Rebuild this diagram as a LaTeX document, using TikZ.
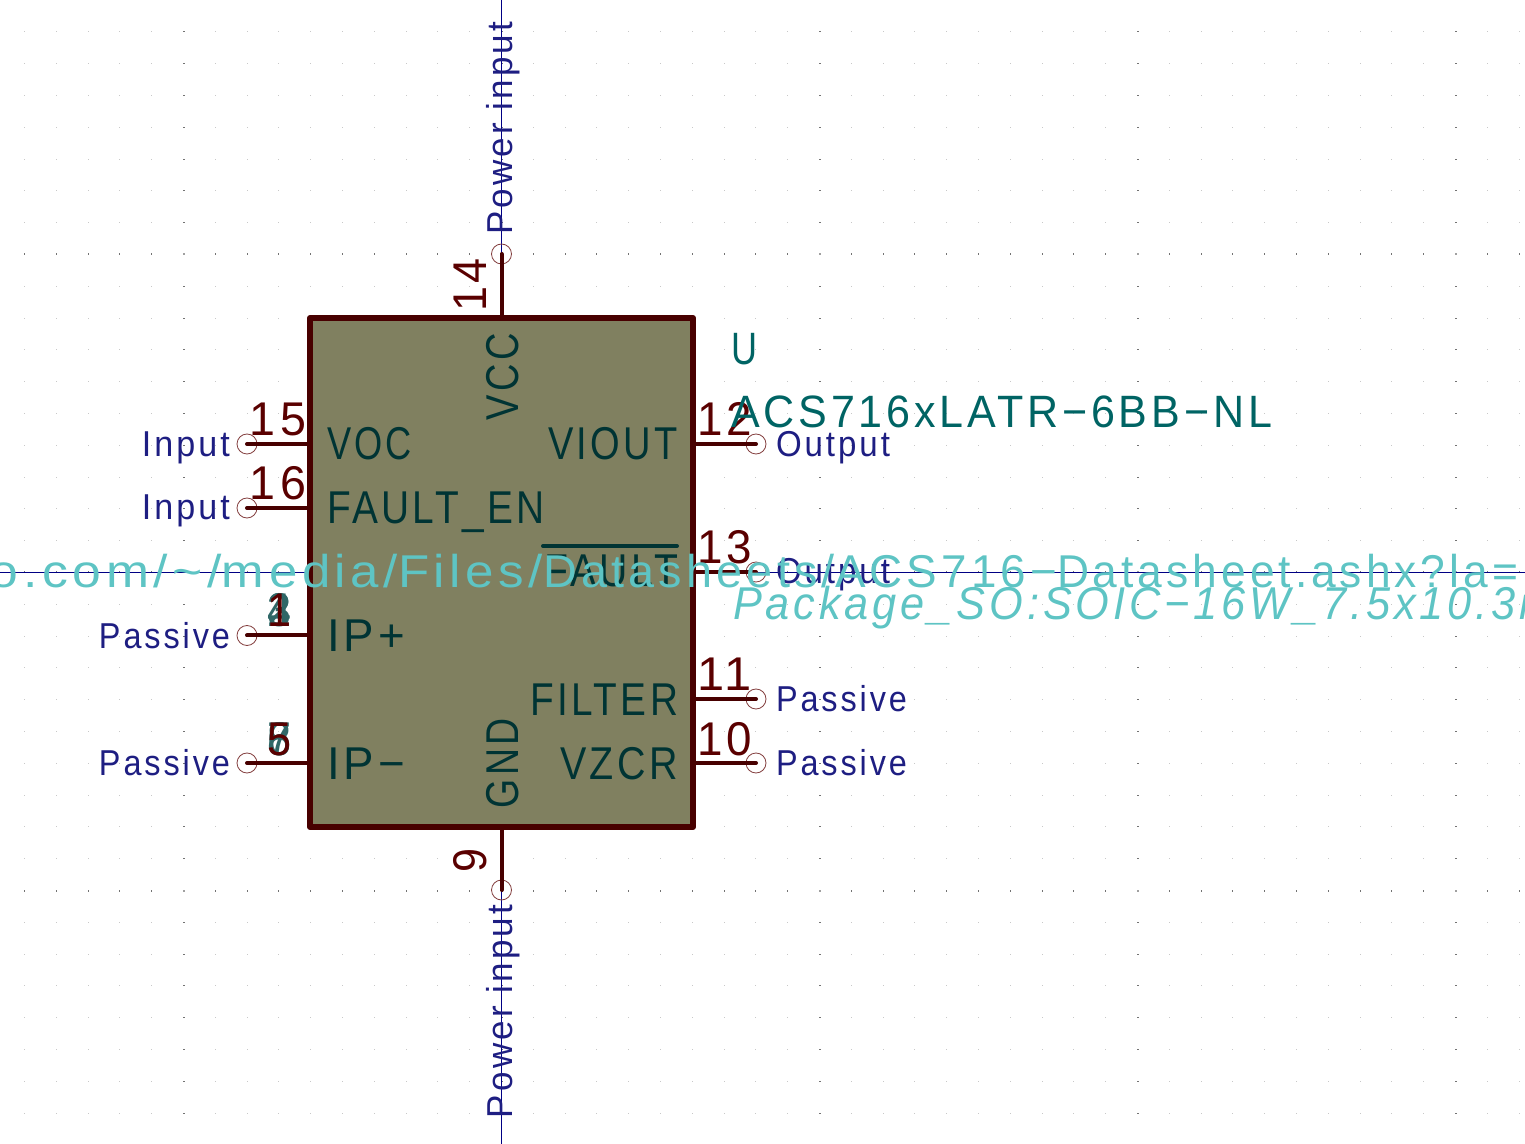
\documentclass[tikz,border=0pt]{standalone}
\usepackage{fontspec}
\usepackage{graphicx}
\newfontfamily\kifont[LetterSpace=9]{Liberation Sans}
\newfontfamily\kiital[LetterSpace=9]{Liberation Sans Italic}
\newlength\kipx \setlength\kipx{0.75pt}
\newcommand\fitw[2]{\resizebox{#1\kipx}{\height}{#2}}
\definecolor{axisc}{RGB}{0,0,132}
\definecolor{gridc}{RGB}{200,200,200}
\definecolor{gridm}{RGB}{115,115,115}
\definecolor{bodyc}{RGB}{128,128,96}
\definecolor{edgec}{RGB}{72,0,0}
\definecolor{numc}{RGB}{90,0,0}
\definecolor{circc}{RGB}{132,64,64}
\definecolor{namec}{RGB}{0,52,52}
\definecolor{typec}{RGB}{30,30,130}
\definecolor{fieldc}{RGB}{0,100,100}
\definecolor{hidc}{RGB}{94,196,196}
\definecolor{hidnum}{RGB}{47,103,103}
\tikzset{
  x=0.75pt,y=-0.75pt,
  txt/.style={inner sep=0pt,outer sep=0pt},
  pinnum/.style={txt,text=numc,font=\fontsize{35.5}{36}\selectfont\kifont},
  hidpin/.style={txt,text=hidnum,font=\fontsize{35.5}{36}\selectfont\kifont},
  pinname/.style={txt,text=namec,font=\fontsize{34.5}{35}\selectfont\kifont},
  pintype/.style={txt,text=typec,font=\fontsize{27}{27}\selectfont\kifont},
  field/.style={txt,text=fieldc,font=\fontsize{34}{34}\selectfont\kifont},
  hidden/.style={txt,text=hidc,font=\fontsize{34.5}{35}\selectfont\kifont},
  hiddenit/.style={txt,text=hidc,font=\fontsize{34.5}{35}\selectfont\kiital},
  pinend/.style={circle,draw=circc,line width=0.6pt,minimum size=15pt,inner sep=0pt},
  pinline/.style={draw=edgec,line width=3pt,line cap=round},
  axisline/.style={draw=axisc,line width=0.75pt},
  chip/.style={draw=edgec,fill=bodyc,line width=4.5pt,line join=round,minimum width=287.25pt,minimum height=381.75pt,inner sep=0pt},
}
\begin{document}
\begin{tikzpicture}
\useasboundingbox (0,0) rectangle (1525,1144);
% grid
\foreach \i in {-15,...,32}{\foreach \j in {-17,...,18}{
  \pgfmathsetmacro{\gx}{501.5+31.8*\i}\pgfmathsetmacro{\gy}{572.5+31.8*\j}
  \pgfmathtruncatemacro{\mi}{mod(abs(\i),10)}\pgfmathtruncatemacro{\mj}{mod(abs(\j),10)}
  \ifnum\mi=0
    \ifnum\mj=0
      \fill[gridc!80!black] (\gx-1,\gy-1) rectangle (\gx+1,\gy+1);
    \else
      \fill[gridm] (\gx-1,\gy-0.5) rectangle (\gx+1,\gy+0.5);
    \fi
  \else
    \ifnum\mj=0
      \fill[gridm] (\gx-0.5,\gy-1) rectangle (\gx+0.5,\gy+1);
    \else
      \fill[gridc] (\gx-0.5,\gy-0.5) rectangle (\gx+0.5,\gy+0.5);
    \fi
  \fi
}}
% axes
\coordinate (ax1) at (0,572.5); \coordinate (ax2) at (1525,572.5);
\coordinate (ay1) at (501.5,0); \coordinate (ay2) at (501.5,1144);
\draw[axisline] (ax1) -- (ax2);
\draw[axisline] (ay1) -- (ay2);
% body
\node[chip] (box) at (501.5,572.5) {};
% pin ends
\node[pinend] (p15) at (247,444) {};
\node[pinend] (p16) at (247,508) {};
\node[pinend] (p1) at (247,635.5) {};
\node[pinend] (p5) at (247,763) {};
\node[pinend] (p12) at (756,444) {};
\node[pinend] (p13) at (756,572) {};
\node[pinend] (p11) at (756,699) {};
\node[pinend] (p10) at (756,763) {};
\node[pinend] (p14) at (501.5,254) {};
\node[pinend] (p9) at (501.5,890) {};
\foreach \p in {p15,p16,p1,p5}{\draw[pinline] (\p.center) -- (\p.center -| box.west);}
\foreach \p in {p12,p13,p11,p10}{\draw[pinline] (\p.center) -- (\p.center -| box.east);}
\draw[pinline] (p14.center) -- (p14.center |- box.north);
\draw[pinline] (p9.center) -- (p9.center |- box.south);
% hidden stacked numbers
\foreach \n in {2,3,4}{\node[hidpin,anchor=base east] (h\n) at (291,627) {\fitw{24}{\n}};}
\foreach \n in {6,7,8}{\node[hidpin,anchor=base east] (h\n) at (291,755) {\fitw{24}{\n}};}
% pin numbers
\node[pinnum,anchor=base east] (n15) at (306,436) {\fitw{56}{15}};
\node[pinnum,anchor=base east] (n16) at (306,500) {\fitw{56}{16}};
\node[pinnum,anchor=base east] (n1) at (291,627) {\fitw{24}{1}};
\node[pinnum,anchor=base east] (n5) at (291,755) {\fitw{24}{5}};
\node[pinnum,anchor=base west] (n12) at (697,436) {\fitw{55}{12}};
\node[pinnum,anchor=base west] (n13) at (697,564) {\fitw{55}{13}};
\node[pinnum,anchor=base west] (n11) at (697,691) {\fitw{55}{11}};
\node[pinnum,anchor=base west] (n10) at (697,755) {\fitw{55}{10}};
\node[pinnum,anchor=base west,rotate=90] (n14) at (486,312) {\fitw{54}{14}};
\node[pinnum,anchor=base west,rotate=90] (n9) at (486,872) {\fitw{24}{9}};
% pin names
\node[pinname,anchor=base west] (tvoc) at (327,460) {\fitw{85}{VOC}};
\node[pinname,anchor=base west] (tfen) at (327,524) {\fitw{218}{FAULT\_EN}};
\node[pinname,anchor=base west] (tipp) at (327,651) {\fitw{78}{IP+}};
\node[pinname,anchor=base west] (tipm) at (327,779) {\fitw{78}{IP\textminus}};
\node[pinname,anchor=base east] (tviout) at (678,460) {\fitw{130}{VIOUT}};
\node[pinname,anchor=base east] (tfault) at (678,587) {\fitw{133}{FAULT}};
\draw[draw=namec,line width=3pt,line cap=round] (543,546) -- (677,546);
\node[pinname,anchor=base east] (tfilter) at (678,715) {\fitw{148}{FILTER}};
\node[pinname,anchor=base east] (tvzcr) at (678,779) {\fitw{118}{VZCR}};
\node[pinname,anchor=base east,rotate=90] (tvcc) at (518,333) {\fitw{87}{VCC}};
\node[pinname,anchor=base west,rotate=90] (tgnd) at (518,808) {\fitw{90}{GND}};
% electrical types
\node[pintype,anchor=base east] (e15) at (230,457) {\fitw{88}{Input}};
\node[pintype,anchor=base east] (e16) at (230,520) {\fitw{88}{Input}};
\node[pintype,anchor=base east] (e1) at (230,648) {\fitw{131}{Passive}};
\node[pintype,anchor=base east] (e5) at (230,775) {\fitw{131}{Passive}};
\node[pintype,anchor=base west] (e12) at (776,457) {\fitw{114}{Output}};
\node[pintype,anchor=base west] (e13) at (776,584) {\fitw{114}{Output}};
\node[pintype,anchor=base west] (e11) at (776,711) {\fitw{131}{Passive}};
\node[pintype,anchor=base west] (e10) at (776,775) {\fitw{131}{Passive}};
\node[pintype,anchor=base west,rotate=90] (e14) at (512,235) {\fitw{213}{Power input}};
\node[pintype,anchor=base west,rotate=90] (e9) at (512,1118) {\fitw{213}{Power input}};
% fields
\node[field,anchor=base west] (fu) at (731,365) {\fitw{26}{U}};
\node[field,anchor=base west] (fv) at (731,428) {\fitw{541}{ACS716xLATR\textminus6BB\textminus NL}};
\begin{scope}
\clip (0,0) rectangle (1525,1144);
\node[hidden,anchor=base west] (fd) at (-10,588) {\fitw{232}{o.com/\textasciitilde/}\fitw{176}{media/}\fitw{145}{Files/}\fitw{292}{Datasheets/}\fitw{222}{ACS716\textminus}\fitw{461}{Datasheet.ashx?la=}};
\node[hiddenit,anchor=base west] (ff) at (733,620) {\fitw{823}{Package\_SO:SOIC\textminus16W\_7.5x10.3m}};
\end{scope}
\end{tikzpicture}
\end{document}
